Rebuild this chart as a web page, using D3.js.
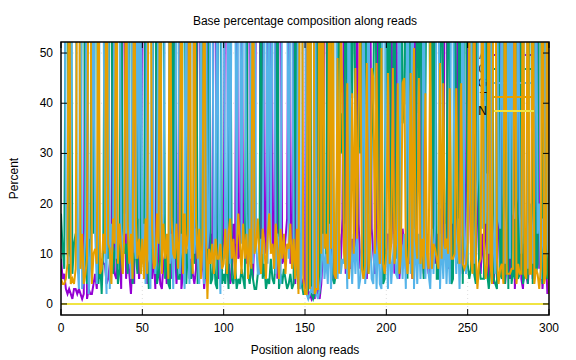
<!DOCTYPE html>
<html>
<head>
<meta charset="utf-8">
<script src="https://cdn.jsdelivr.net/npm/d3@7"></script>
<style>
  body { margin: 0; background: #fff; }
  text { font-family: "Liberation Sans", Arial, sans-serif; fill: #000; }
</style>
</head>
<body>
<div id="chart"></div>
<script>
/** data: percent of each base per read position 0..300 **/
const aPct = [
  9,5,6,3,2,3,2,1,3,3, 2,3,2,1,2,70,1,3,2,2, 4,6,3,12,5,9,8,8,4,5, 8,13,70,6,5,9,14,3,65,72,
  5,10,6,2,9,4,70,12,5,11, 64,76,12,4,8,9,5,10,3,70, 10,4,3,8,10,4,12,7,5,72, 12,4,10,74,3,6,8,12,70,5,
  9,6,4,7,72,76,6,10,3,8, 80,8,14,10,78,70,12,5,9,9, 14,75,72,11,4,6,16,7,74,9, 10,70,13,16,8,76,72,11,5,15,
  73,78,78,7,74,16,10,74,18,70, 13,9,74,5,75,72,8,9,13,17, 76,8,12,72,4,70,12,3,4,5, 3,94,1,2,1,2,1,92,2,1,
  4,10,76,72,6,12,8,15,5,11, 10,14,8,17,70,6,15,9,7,13, 9,12,70,16,7,11,18,8,5,14, 72,15,10,6,13,72,8,17,6,11,
  10,14,8,72,19,6,73,13,5,9, 15,11,7,9,8,13,5,18,70,9, 13,8,72,6,12,9,6,7,14,71, 8,14,6,19,9,12,74,70,7,13,
  7,16,10,21,72,9,18,6,12,24, 66,25,12,18,10,68,20,9,6,14, 8,15,70,5,20,12,4,9,6,17, 72,13,6,4,8,15,5,11,68,3,
  10,14,70,5,3,12,6,4,9,14, 5,9,12,72,7,16,3,8,11,2, 4
];
const cPct = [
  18,11,7,72,80,5,84,6,12,14, 12,6,14,82,88,9,4,13,7,78, 14,80,85,4,9,2,12,77,10,9, 78,74,6,10,12,4,7,80,14,10,
  12,6,73,81,4,10,10,6,72,6, 15,7,71,10,3,6,11,75,83,4, 6,9,77,74,5,10,4,3,78,9, 72,9,5,5,10,77,76,4,11,8,
  5,12,8,74,4,7,10,74,11,5, 8,76,4,5,10,4,3,80,77,4, 6,4,10,3,76,5,4,8,3,5, 4,7,5,3,73,6,4,8,5,3,
  3,6,7,80,5,8,3,5,4,9, 5,4,9,78,3,6,4,7,5,3, 4,6,3,4,80,7,3,5,4,2, 2,2,3,93,2,1,2,3,94,2,
  80,9,8,10,82,8,78,5,4,6, 36,76,30,38,12,81,38,6,76,41, 77,35,12,42,30,78,5,80,37,6, 12,33,41,78,36,10,80,29,4,5,
  76,37,79,12,31,82,9,38,6,77, 36,40,80,5,76,35,6,28,12,78, 38,79,12,5,41,77,81,36,74,11, 75,5,5,30,78,39,9,13,80,40,
  4,5,76,30,8,80,33,4,77,62, 8,5,7,70,6,4,72,8,5,5, 5,74,6,3,7,76,5,4,3,72, 6,5,78,4,75,3,80,4,7,5,
  75,5,6,79,4,6,12,4,80,70, 4,76,6,8,80,72,4,78,6,5, 45
];
const gPct = [
  68,80,83,20,10,8,10,88,81,70, 9,3,77,3,6,15,86,2,8,16, 72,14,4,17,80,82,72,12,2,74, 3,16,13,72,9,79,70,15,9,18,
  14,74,19,5,76,12,9,73,17,73, 8,16,4,80,11,3,72,14,6,12, 72,15,8,18,70,72,74,8,14,3, 17,75,73,6,14,9,3,71,16,4,
  73,70,10,15,10,4,72,13,4,75, 11,15,74,73,6,13,76,16,2,80, 72,9,17,72,8,78,67,70,12,72, 74,12,69,72,18,7,9,74,8,75,
  12,6,6,13,10,64,75,8,68,11, 70,73,6,14,12,4,74,75,71,68, 9,74,72,11,6,10,83,3,6,88, 93,2,1,2,3,2,95,2,1,3,
  6,14,5,10,4,16,3,12,85,78, 5,14,6,9,8,16,3,80,12,4, 14,6,15,3,5,14,72,4,10,74, 14,5,4,16,3,15,4,3,82,78,
  14,3,15,4,9,14,6,5,83,14, 5,14,3,80,14,6,84,3,15,4, 14,5,13,82,5,14,6,3,15,6, 16,72,82,3,14,5,16,4,13,4,
  80,70,14,6,17,3,15,82,14,6, 14,22,72,16,8,18,25,75,80,15, 75,16,26,10,65,18,11,6,82,17, 15,74,22,8,21,76,9,78,18,17,
  21,73,18,10,19,76,77,7,15,20, 8,21,75,14,20,5,17,10,77,12, 9
];
const tPct = [
  5,4,4,5,8,84,4,5,4,7, 77,88,7,14,4,6,9,82,83,4, 10,11,8,76,6,7,14,10,84,12, 11,4,17,12,79,8,16,11,6,15,
  79,16,8,14,5,80,17,9,13,6, 13,5,17,6,84,82,15,7,8,18, 12,82,6,16,9,14,5,82,17,10, 9,16,7,15,79,6,18,10,14,83,
  13,6,78,17,9,15,5,13,82,16, 1,11,8,12,6,13,9,9,12,7, 8,15,6,14,17,9,13,5,11,18, 12,6,16,9,14,5,15,7,82,10,
  12,17,9,6,15,12,5,13,18,10, 12,7,16,11,5,15,9,14,6,12, 11,16,7,13,5,15,2,89,86,5, 2,2,95,3,94,95,2,3,3,94,
  10,77,11,14,8,74,11,73,6,5, 49,6,56,42,10,7,44,5,11,42, 10,47,13,39,58,7,5,8,48,6, 12,47,45,10,48,13,8,51,8,6,
  10,46,8,12,47,8,12,44,6,10, 44,45,10,6,12,46,5,51,13,9, 45,8,13,7,42,10,7,54,7,12, 11,9,7,48,9,44,11,13,10,43,
  9,9,10,43,13,8,44,8,7,8, 12,58,9,6,76,10,3,8,9,76, 12,5,8,82,8,4,80,81,9,4, 7,8,4,84,6,6,6,7,7,85,
  4,8,6,6,84,6,5,85,6,6, 83,4,7,6,3,7,86,4,6,81, 2
];
const nPct = [
  0,0,0,0,0,0,0,0,0,0, 0,0,0,0,0,0,0,0,0,0, 0,0,0,0,0,0,0,0,0,0, 0,0,0,0,0,0,0,0,0,0,
  0,0,0,0,0,0,0,0,0,0, 0,0,0,0,0,0,0,0,0,0, 0,0,0,0,0,0,0,0,0,0, 0,0,0,0,0,0,0,0,0,0,
  0,0,0,0,0,0,0,0,0,0, 0,0,0,0,0,0,0,0,0,0, 0,0,0,0,0,0,0,0,0,0, 0,0,0,0,0,0,0,0,0,0,
  0,0,0,0,0,0,0,0,0,0, 0,0,0,0,0,0,0,0,0,0, 0,0,0,0,0,0,0,0,0,0, 0,0,0,0,0,0,0,0,0,0,
  0,0,0,0,0,0,0,0,0,0, 0,0,0,0,0,0,0,0,0,0, 0,0,0,0,0,0,0,0,0,0, 0,0,0,0,0,0,0,0,0,0,
  0,0,0,0,0,0,0,0,0,0, 0,0,0,0,0,0,0,0,0,0, 0,0,0,0,0,0,0,0,0,0, 0,0,0,0,0,0,0,0,0,0,
  0,0,0,0,0,0,0,0,0,0, 0,0,0,0,0,0,0,0,0,0, 0,0,0,0,0,0,0,0,0,0, 0,0,0,0,0,0,0,0,0,0,
  0,0,0,0,0,0,0,0,0,0, 0,0,0,0,0,0,0,0,0,0, 0
];
const baseNames = ["A", "C", "G", "T", "N"];
const baseColors = ["#9400d3", "#009e73", "#56b4e9", "#e69f00", "#f0e442"];
const xTicks = [0, 50, 100, 150, 200, 250, 300];
const yTicks = [0, 10, 20, 30, 40, 50];

const width = 576, height = 360;
const margin = { top: 42, right: 27, bottom: 45, left: 61 };

const svg = d3.select("#chart").append("svg")
    .attr("width", width)
    .attr("height", height);

const x = d3.scaleLinear().domain([0, 300]).range([margin.left, width - margin.right]);
const y = d3.scaleLinear().domain([-2.2, 52.2]).range([height - margin.bottom, margin.top]);

svg.append("defs").append("clipPath").attr("id", "plotClip")
    .append("rect")
    .attr("x", margin.left).attr("y", margin.top)
    .attr("width", x(300) - margin.left)
    .attr("height", y(-2.2) - margin.top);

// grid
const grid = svg.append("g").attr("stroke", "#c8c8c8").attr("stroke-width", 0.6).attr("stroke-dasharray", "1,3");
yTicks.forEach(t => grid.append("line").attr("x1", x(0)).attr("x2", x(300)).attr("y1", y(t)).attr("y2", y(t)));
xTicks.slice(1, -1).forEach(t => grid.append("line").attr("x1", x(t)).attr("x2", x(t)).attr("y1", y(-2.2)).attr("y2", y(52.2)));

// series + key entries (gnuplot draws key sample before each plot)
const seriesData = [aPct, cPct, gPct, tPct, nPct];
const line = d3.line().x((d, i) => x(i)).y(d => y(d));
const plot = svg.append("g");
seriesData.forEach((vals, k) => {
    const ky = 55 + k * 14;
    plot.append("text")
        .attr("x", 487).attr("y", ky + 4)
        .attr("text-anchor", "end")
        .attr("font-size", 12)
        .text(baseNames[k]);
    plot.append("line")
        .attr("x1", 494).attr("x2", 534)
        .attr("y1", ky).attr("y2", ky)
        .attr("stroke", baseColors[k]).attr("stroke-width", 2);
    plot.append("path")
        .datum(vals)
        .attr("clip-path", "url(#plotClip)")
        .attr("fill", "none")
        .attr("stroke", baseColors[k])
        .attr("stroke-width", 2)
        .attr("d", line);
});

// border and ticks (mirrored, inward)
svg.append("rect")
    .attr("x", margin.left).attr("y", margin.top)
    .attr("width", x(300) - margin.left)
    .attr("height", y(-2.2) - margin.top)
    .attr("fill", "none").attr("stroke", "#000").attr("stroke-width", 1.5);

const ticks = svg.append("g").attr("stroke", "#000").attr("stroke-width", 1);
yTicks.forEach(t => {
    ticks.append("line").attr("x1", x(0)).attr("x2", x(0) + 6).attr("y1", y(t)).attr("y2", y(t));
    ticks.append("line").attr("x1", x(300)).attr("x2", x(300) - 6).attr("y1", y(t)).attr("y2", y(t));
    svg.append("text").attr("x", x(0) - 8).attr("y", y(t) + 4)
        .attr("text-anchor", "end").attr("font-size", 12).text(t);
});
xTicks.forEach(t => {
    ticks.append("line").attr("x1", x(t)).attr("x2", x(t)).attr("y1", y(-2.2)).attr("y2", y(-2.2) - 6);
    ticks.append("line").attr("x1", x(t)).attr("x2", x(t)).attr("y1", y(52.2)).attr("y2", y(52.2) + 6);
    svg.append("text").attr("x", x(t)).attr("y", y(-2.2) + 17)
        .attr("text-anchor", "middle").attr("font-size", 12).text(t);
});

// titles
svg.append("text").attr("x", 305).attr("y", 25)
    .attr("text-anchor", "middle").attr("font-size", 12)
    .text("Base percentage composition along reads");
svg.append("text").attr("x", 305).attr("y", 354)
    .attr("text-anchor", "middle").attr("font-size", 12)
    .text("Position along reads");
svg.append("text")
    .attr("transform", "translate(18," + ((margin.top + y(-2.2)) / 2) + ") rotate(-90)")
    .attr("text-anchor", "middle").attr("font-size", 12)
    .text("Percent");
</script>
</body>
</html>
